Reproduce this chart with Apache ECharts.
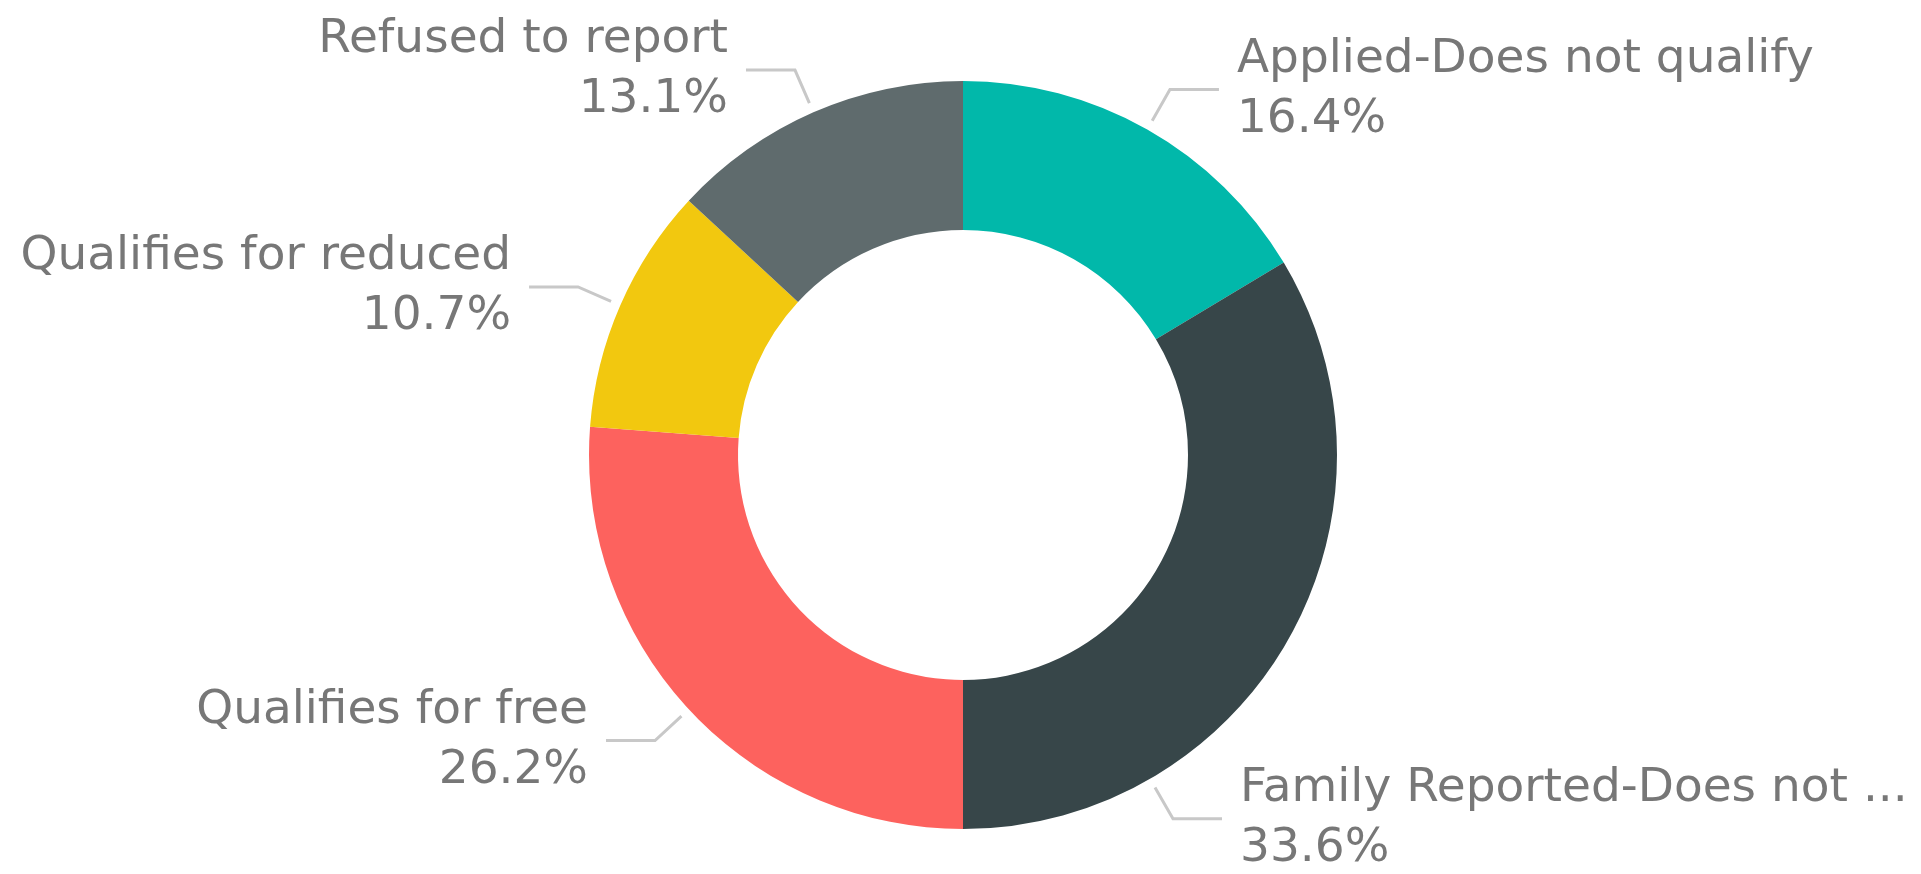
<!DOCTYPE html>
<html>
<head>
<meta charset="utf-8">
<script src="https://cdn.jsdelivr.net/npm/echarts@6/dist/echarts.min.js"></script>
<style>
  html, body { margin: 0; padding: 0; background: #fff; }
  #chart { width: 1921px; height: 874px; }
</style>
</head>
<body>
<div id="chart"></div>
<script>
// categories, clockwise from the top
const names = [
  'Applied-Does not qualify',
  'Family Reported-Does not qualify',
  'Qualifies for free',
  'Qualifies for reduced',
  'Refused to report'
]
// share of each category (%)
const shares = [16.4, 33.6, 26.2, 10.7, 13.1]
const colors = ['#01B8AA', '#374649', '#FD625E', '#F2C80F', '#5F6B6D']

const myChart = echarts.init(document.getElementById('chart'))

const cx = 963
const cy = 455
const rOuter = 374
const rInner = 225
const len1 = 46
const len2 = 49
const gap = 18
const lineOffset = 10 // label lines start a little away from the ring

const option = {
  animation: false,
  series: [
    {
      type: 'pie',
      center: [cx, cy],
      radius: [rInner, rOuter],
      startAngle: 90,
      clockwise: true,
      percentPrecision: 1,
      avoidLabelOverlap: false,
      label: {
        show: true,
        formatter: '{b}\n{d}%',
        fontFamily: 'DejaVu Sans',
        fontSize: 47,
        lineHeight: 60,
        color: '#777777',
        distanceToLabelLine: gap,
      },
      labelLine: {
        show: true,
        length: len1,
        length2: len2,
        lineStyle: { color: '#c8c8c8', width: 3 },
      },
      labelLayout: function (params) {
        if (params.dataIndex === 1) {
          // the second label sits lower on its slice, like the original
          const a = (150 * Math.PI) / 180
          const dx = Math.sin(a)
          const dy = -Math.cos(a)
          const x1 = cx + (rOuter + lineOffset) * dx
          const y1 = cy + (rOuter + lineOffset) * dy
          const x2 = cx + (rOuter + len1) * dx
          const y2 = cy + (rOuter + len1) * dy
          const x3 = x2 + len2
          return {
            x: x3 + gap,
            y: y2,
            align: 'left',
            verticalAlign: 'middle',
            labelLinePoints: [[x1, y1], [x2, y2], [x3, y2]],
          }
        }
        const pts = params.labelLinePoints
        if (!pts) return {}
        const ddx = pts[1][0] - pts[0][0]
        const ddy = pts[1][1] - pts[0][1]
        const d = Math.sqrt(ddx * ddx + ddy * ddy) || 1
        const p0 = [pts[0][0] + (ddx / d) * lineOffset, pts[0][1] + (ddy / d) * lineOffset]
        return { labelLinePoints: [p0, pts[1], pts[2]] }
      },
      data: names.map(function (n, i) {
        const item = { name: n, value: shares[i], itemStyle: { color: colors[i] } }
        if (i === 1) item.label = { width: 676, overflow: 'truncate' }
        return item
      }),
    },
  ],
}
myChart.setOption(option)
</script>
</body>
</html>
